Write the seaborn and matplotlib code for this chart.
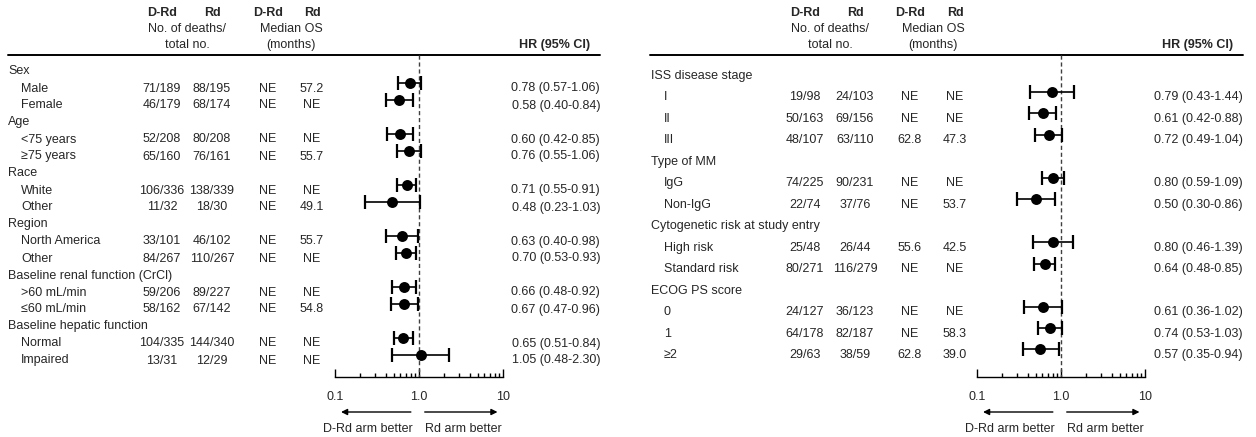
import numpy as np
import pandas as pd
import seaborn as sns
import matplotlib.pyplot as plt
from matplotlib.ticker import FixedLocator, FixedFormatter, NullFormatter

sns.set_theme(style="white")
plt.rcParams['font.family'] = ['Liberation Sans', 'DejaVu Sans']

# ---- left panel data ----
left_groups = ["Sex", "Age", "Race", "Region", "Baseline renal function (CrCl)", "Baseline hepatic function"]
left_sizes = [2, 2, 2, 2, 2, 2]
left_sub = ["Male", "Female", "<75 years", "≥75 years", "White", "Other",
            "North America", "Other", ">60 mL/min", "≤60 mL/min", "Normal", "Impaired"]
left_drd_deaths = ["71/189", "46/179", "52/208", "65/160", "106/336", "11/32",
                   "33/101", "84/267", "59/206", "58/162", "104/335", "13/31"]
left_rd_deaths = ["88/195", "68/174", "80/208", "76/161", "138/339", "18/30",
                  "46/102", "110/267", "89/227", "67/142", "144/340", "12/29"]
left_drd_med = ["NE"] * 12
left_rd_med = ["57.2", "NE", "NE", "55.7", "NE", "49.1", "55.7", "NE", "NE", "54.8", "NE", "NE"]
left_hr = [0.78, 0.58, 0.60, 0.76, 0.71, 0.48, 0.63, 0.70, 0.66, 0.67, 0.65, 1.05]
left_lo = [0.57, 0.40, 0.42, 0.55, 0.55, 0.23, 0.40, 0.53, 0.48, 0.47, 0.51, 0.48]
left_hi = [1.06, 0.84, 0.85, 1.06, 0.91, 1.03, 0.98, 0.93, 0.92, 0.96, 0.84, 2.30]

# ---- right panel data ----
right_groups = ["ISS disease stage", "Type of MM", "Cytogenetic risk at study entry", "ECOG PS score"]
right_sizes = [3, 2, 2, 3]
right_sub = ["I", "II", "III", "IgG", "Non-IgG", "High risk", "Standard risk", "0", "1", "≥2"]
right_drd_deaths = ["19/98", "50/163", "48/107", "74/225", "22/74", "25/48", "80/271", "24/127", "64/178", "29/63"]
right_rd_deaths = ["24/103", "69/156", "63/110", "90/231", "37/76", "26/44", "116/279", "36/123", "82/187", "38/59"]
right_drd_med = ["NE", "NE", "62.8", "NE", "NE", "55.6", "NE", "NE", "NE", "62.8"]
right_rd_med = ["NE", "NE", "47.3", "NE", "53.7", "42.5", "NE", "NE", "58.3", "39.0"]
right_hr = [0.79, 0.61, 0.72, 0.80, 0.50, 0.80, 0.64, 0.61, 0.74, 0.57]
right_lo = [0.43, 0.42, 0.49, 0.59, 0.30, 0.46, 0.48, 0.36, 0.53, 0.35]
right_hi = [1.44, 0.88, 1.04, 1.09, 0.86, 1.39, 0.85, 1.02, 1.03, 0.94]

W, H = 1256, 437
FS = 9
fig = plt.figure(figsize=(W / 100, H / 100), dpi=100)
tab = fig.add_axes([0, 0, 1, 1])
tab.set_xlim(0, W)
tab.set_ylim(H, 0)
tab.axis("off")


def draw_panel(groups, sizes, sub, dd, rd, dm, rm, hr, lo, hi, lay):
    y = lay["row0"]
    ys = []
    k = 0
    for g, n in zip(groups, sizes):
        tab.text(lay["xg"], y, g, fontsize=FS, va="center", ha="left")
        y += lay["dy"]
        for _ in range(n):
            tab.text(lay["xs"], y, sub[k], fontsize=FS, va="center", ha="left")
            for cx, col in zip(lay["cols"], [dd, rd, dm, rm]):
                tab.text(cx, y, col[k], fontsize=FS, va="center", ha="center")
            tab.text(lay["hr_r"], y, f"{hr[k]:.2f} ({lo[k]:.2f}-{hi[k]:.2f})",
                     fontsize=FS, va="center", ha="right")
            ys.append(y)
            y += lay["dy"]
            k += 1

    # header
    c = lay["cols"]
    for cx, t in zip(c, ["D-Rd", "Rd", "D-Rd", "Rd"]):
        tab.text(cx, 13, t, fontsize=FS, fontweight="bold", ha="center", va="center")
    tab.text(lay["h_deaths"], 29.5, "No. of deaths/", fontsize=FS, ha="center", va="center")
    tab.text(lay["h_deaths"], 45, "total no.", fontsize=FS, ha="center", va="center")
    tab.text(lay["h_med"], 29.5, "Median OS", fontsize=FS, ha="center", va="center")
    tab.text(lay["h_med"], 45, "(months)", fontsize=FS, ha="center", va="center")
    tab.text(lay["hr_hdr"], 45, "HR (95% CI)", fontsize=FS, fontweight="bold", ha="right", va="center")
    tab.plot(lay["line"], [55, 55], color="black", lw=1.4)

    # forest
    x0, x1 = lay["ax"]
    ax = fig.add_axes([x0 / W, 0, (x1 - x0) / W, 1])
    ax.patch.set_alpha(0)
    ax.set_xscale("log")
    ax.set_xlim(0.1, 10)
    ax.set_ylim(H, 0)
    df = pd.DataFrame({"hr": hr, "lo": lo, "hi": hi, "y": np.array(ys) - 5.5})
    ax.errorbar(df["hr"], df["y"], xerr=[df["hr"] - df["lo"], df["hi"] - df["hr"]],
                fmt="none", ecolor="black", elinewidth=1.2, capsize=5, capthick=1.6, zorder=2)
    sns.scatterplot(data=df, x="hr", y="y", ax=ax, color="black", s=62,
                    edgecolor="black", linewidth=0, zorder=3, legend=False)
    ax.plot([1, 1], [55, 377], color="0.25", lw=1, ls=(0, (3, 2)), zorder=1)

    for s in ["left", "right", "top"]:
        ax.spines[s].set_visible(False)
    ax.spines["bottom"].set_position(("data", 377))
    ax.spines["bottom"].set_color("black")
    ax.spines["bottom"].set_linewidth(1)
    ax.set_yticks([])
    ax.xaxis.set_major_locator(FixedLocator([0.1, 1, 10]))
    ax.xaxis.set_major_formatter(FixedFormatter(["0.1", "1.0", "10"]))
    ax.xaxis.set_minor_locator(FixedLocator([m * 10.0 ** e for e in (-1, 0) for m in range(2, 10)]))
    ax.xaxis.set_minor_formatter(NullFormatter())
    ax.tick_params(axis="x", which="major", direction="in", length=6, width=1,
                   color="black", labelsize=FS, pad=10, bottom=True)
    ax.tick_params(axis="x", which="minor", direction="in", length=3, width=1,
                   color="black", bottom=True)
    ax.set_xlabel("")
    ax.set_ylabel("")

    ap = dict(arrowstyle="-|>", color="black", lw=1, mutation_scale=9, shrinkA=0, shrinkB=0)
    ax.annotate("", xy=(0.118, 412), xytext=(0.80, 412), xycoords="data", arrowprops=ap, annotation_clip=False)
    ax.annotate("", xy=(8.6, 412), xytext=(1.17, 412), xycoords="data", arrowprops=ap, annotation_clip=False)
    ax.text(0.245, 429, "D-Rd arm better", fontsize=FS, ha="center", va="center", clip_on=False)
    ax.text(3.35, 429, "Rd arm better", fontsize=FS, ha="center", va="center", clip_on=False)


left_lay = dict(xg=8, xs=21, cols=[162, 212, 268, 312], hr_r=600, hr_hdr=590,
                h_deaths=187, h_med=291, line=[8, 600], row0=71.5, dy=17, ax=(335, 503))
right_lay = dict(xg=651, xs=664, cols=[805, 855, 910, 955], hr_r=1243, hr_hdr=1233,
                 h_deaths=830, h_med=933, line=[650, 1243], row0=76, dy=21.46, ax=(977, 1145))

draw_panel(left_groups, left_sizes, left_sub, left_drd_deaths, left_rd_deaths,
           left_drd_med, left_rd_med, left_hr, left_lo, left_hi, left_lay)
draw_panel(right_groups, right_sizes, right_sub, right_drd_deaths, right_rd_deaths,
           right_drd_med, right_rd_med, right_hr, right_lo, right_hi, right_lay)

fig.savefig("out.png", dpi=100)
